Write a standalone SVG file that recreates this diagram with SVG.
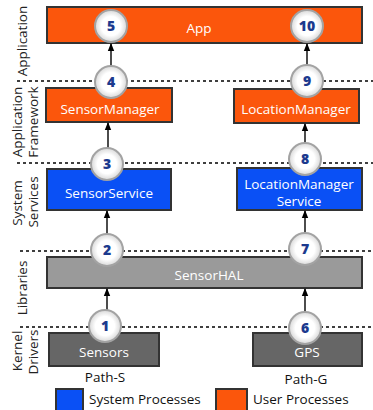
<svg xmlns="http://www.w3.org/2000/svg" width="373" height="410" viewBox="0 0 373 410">
<defs>
<radialGradient id="cg" cx="0.5" cy="0.5" r="0.5">
<stop offset="0.6" stop-color="#ffffff"/>
<stop offset="1" stop-color="#d8d8d8"/>
</radialGradient>
<marker id="ah" viewBox="0 0 8 8" refX="7" refY="4" markerWidth="8" markerHeight="8" markerUnits="userSpaceOnUse" orient="auto">
<path d="M0,0.8 L8,4 L0,7.2 z" fill="#000"/>
</marker>
</defs>
<style>
.lbl{font-family:"Open Sans","Liberation Sans",sans-serif;font-size:13.5px;fill:#fff;text-anchor:middle}
.side{font-family:"Open Sans","Liberation Sans",sans-serif;font-size:13.5px;fill:#222;text-anchor:middle}
.blk{font-family:"Open Sans","Liberation Sans",sans-serif;font-size:13.5px;fill:#111}
.box{stroke:#333;stroke-width:2}
.usr{fill:#fb560c}
.sys{fill:#0a50f5}
.hal{fill:#9a9a9a}
.drv{fill:#666666}
.dash{stroke:#000;stroke-width:1.4;stroke-dasharray:3 3;fill:none}
.conn{stroke:#000;stroke-width:1.4;fill:none;marker-end:url(#ah)}
.circ{fill:url(#cg);stroke:#a3a3a3;stroke-width:2}
.num{font-family:"Open Sans","Liberation Sans",sans-serif;font-weight:800;font-size:14px;fill:#1c3a8e;text-anchor:middle}
</style>

<g id="layers">
<text class="side" transform="translate(27,41) rotate(-90)">Application</text>
<text class="side" transform="translate(22,122) rotate(-90)">Application</text>
<text class="side" transform="translate(38,122) rotate(-90)">Framework</text>
<text class="side" transform="translate(22,203) rotate(-90)">System</text>
<text class="side" transform="translate(38,202) rotate(-90)">Services</text>
<text class="side" transform="translate(27,288) rotate(-90)">Libraries</text>
<text class="side" transform="translate(22,351) rotate(-90)">Kernel</text>
<text class="side" transform="translate(38,352) rotate(-90)">Drivers</text>
<line class="dash" x1="17" y1="81" x2="373" y2="81"/>
<line class="dash" x1="17" y1="163" x2="373" y2="163"/>
<line class="dash" x1="20" y1="251" x2="373" y2="251"/>
<line class="dash" x1="20" y1="327" x2="373" y2="327"/>
</g>

<g id="app">
<rect class="box usr" x="47" y="7" width="315" height="36"/>
<text class="lbl" x="199" y="33">App</text>
</g>
<g id="sensormanager">
<rect class="box usr" x="46" y="88" width="126" height="34"/>
<text class="lbl" x="110" y="114">SensorManager</text>
</g>
<g id="locationmanager">
<rect class="box usr" x="234" y="89" width="125" height="34"/>
<text class="lbl" x="296" y="114">LocationManager</text>
</g>
<g id="sensorservice">
<rect class="box sys" x="47" y="169" width="124" height="41"/>
<text class="lbl" x="109" y="198">SensorService</text>
</g>
<g id="locationmanagerservice">
<rect class="box sys" x="237" y="168" width="125" height="42"/>
<text class="lbl" x="299" y="189">LocationManager</text>
<text class="lbl" x="299" y="206">Service</text>
</g>
<g id="sensorhal">
<rect class="box hal" x="47" y="257" width="315" height="31"/>
<text class="lbl" x="209" y="280">SensorHAL</text>
</g>
<g id="sensors">
<rect class="box drv" x="49" y="333" width="110" height="33"/>
<text class="lbl" x="104" y="357">Sensors</text>
</g>
<g id="gps">
<rect class="box drv" x="253" y="333" width="109" height="33"/>
<text class="lbl" x="307" y="357">GPS</text>
</g>

<g id="connectors">
<line class="conn" x1="111" y1="66" x2="111" y2="44"/>
<line class="conn" x1="307" y1="65" x2="307" y2="44"/>
<line class="conn" x1="108" y1="148" x2="108" y2="123"/>
<line class="conn" x1="305" y1="143" x2="305" y2="124"/>
<line class="conn" x1="107" y1="234" x2="107" y2="211"/>
<line class="conn" x1="305" y1="233" x2="305" y2="211"/>
<line class="conn" x1="107" y1="310" x2="107" y2="289"/>
<line class="conn" x1="305" y1="312" x2="305" y2="289"/>
</g>

<g id="step5"><circle class="circ" cx="111" cy="26" r="16"/><text class="num" x="111" y="31">5</text></g>
<g id="step10"><circle class="circ" cx="307" cy="26" r="16"/><text class="num" x="307" y="31">10</text></g>
<g id="step4"><circle class="circ" cx="111" cy="82" r="16"/><text class="num" x="111" y="87">4</text></g>
<g id="step9"><circle class="circ" cx="307" cy="81" r="16"/><text class="num" x="307" y="86">9</text></g>
<g id="step3"><circle class="circ" cx="107" cy="164" r="16"/><text class="num" x="107" y="169">3</text></g>
<g id="step8"><circle class="circ" cx="305" cy="159" r="16"/><text class="num" x="305" y="164">8</text></g>
<g id="step2"><circle class="circ" cx="107" cy="250" r="16"/><text class="num" x="107" y="255">2</text></g>
<g id="step7"><circle class="circ" cx="305" cy="249" r="16"/><text class="num" x="305" y="254">7</text></g>
<g id="step1"><circle class="circ" cx="105" cy="326" r="16"/><text class="num" x="105" y="331">1</text></g>
<g id="step6"><circle class="circ" cx="305" cy="328" r="16"/><text class="num" x="305" y="333">6</text></g>

<g id="paths">
<text class="blk" x="105" y="382" text-anchor="middle">Path-S</text>
<text class="blk" x="306" y="384" text-anchor="middle">Path-G</text>
</g>
<g id="legend">
<rect class="box sys" x="56" y="389" width="27" height="23"/>
<text class="blk" x="89" y="404">System Processes</text>
<rect class="box usr" x="216" y="389" width="31" height="23"/>
<text class="blk" x="253" y="404">User Processes</text>
</g>
</svg>
